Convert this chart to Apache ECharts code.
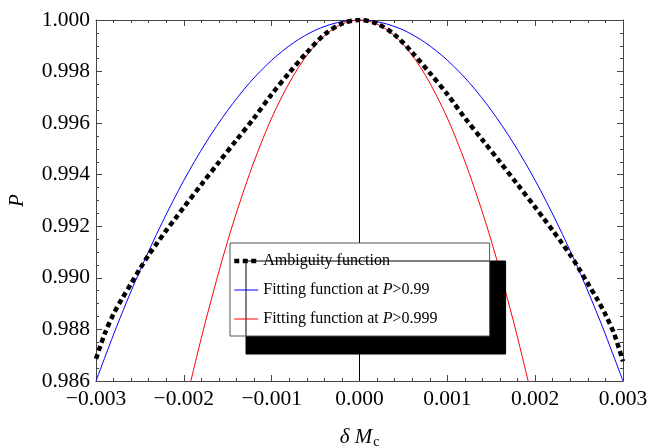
<!DOCTYPE html>
<html>
<head>
<meta charset="utf-8">
<script src="https://cdn.jsdelivr.net/npm/echarts@6/dist/echarts.min.js"></script>
<style>
  html, body { margin: 0; padding: 0; background: #ffffff; }
  #chart { width: 650px; height: 447px; }
</style>
</head>
<body>
<div id="chart"></div>
<script>
// Chirp-mass offset δMc and the match P
const xTicks = [-0.003, -0.002, -0.001, 0, 0.001, 0.002, 0.003];
const xTickLabels = ['\u22120.003', '\u22120.002', '\u22120.001', '0.000', '0.001', '0.002', '0.003'];
const yTicks = [0.986, 0.988, 0.990, 0.992, 0.994, 0.996, 0.998, 1.000];
const yTickLabels = ['0.986', '0.988', '0.990', '0.992', '0.994', '0.996', '0.998', '1.000'];

// Ambiguity function (dashed black)
const ambDelta = [-0.0030, -0.0029, -0.0028, -0.0027, -0.0026, -0.0025, -0.0024, -0.0023, -0.0022, -0.0021,
                  -0.0020, -0.0018, -0.0016, -0.0014, -0.0012, -0.0010, -0.0008, -0.0006, -0.0004, -0.0002,
                   0.0000,
                   0.0002,  0.0004,  0.0006,  0.0008,  0.0010,  0.0012,  0.0014,  0.0016,  0.0018,  0.0020,
                   0.0021,  0.0022,  0.0023,  0.0024,  0.0025,  0.0026,  0.0027,  0.0028,  0.0029,  0.0030];
const ambP = [0.98686, 0.98784, 0.98860, 0.98921, 0.98978, 0.99035, 0.99089, 0.99137, 0.99184, 0.99229,
              0.99274, 0.99362, 0.99449, 0.99535, 0.99620, 0.99712, 0.99795, 0.99874, 0.99943, 0.99986,
              1.00000,
              0.99986, 0.99943, 0.99874, 0.99795, 0.99712, 0.99620, 0.99535, 0.99449, 0.99362, 0.99274,
              0.99229, 0.99184, 0.99137, 0.99089, 0.99035, 0.98978, 0.98921, 0.98858, 0.98782, 0.98676];

// Fitting function at P>0.99 (blue)
const fit99Delta = [-0.0030, -0.00275, -0.0025, -0.00225, -0.0020, -0.00175, -0.0015, -0.00125, -0.0010, -0.00075, -0.0005, -0.00025,
                     0.0000, 0.00025, 0.0005, 0.00075, 0.0010, 0.00125, 0.0015, 0.00175, 0.0020, 0.00225, 0.0025, 0.00275, 0.0030];
const fit99P = [0.98600, 0.98824, 0.99028, 0.99212, 0.99378, 0.99524, 0.99650, 0.99757, 0.99844, 0.99912, 0.99961, 0.99990,
                1.00000, 0.99990, 0.99961, 0.99912, 0.99844, 0.99757, 0.99650, 0.99524, 0.99378, 0.99212, 0.99028, 0.98824, 0.98600];

// Fitting function at P>0.999 (red)
const fit999Delta = [-0.00192, -0.00175, -0.0015, -0.00125, -0.0010, -0.00075, -0.0005, -0.00025,
                      0.0000, 0.00025, 0.0005, 0.00075, 0.0010, 0.00125, 0.0015, 0.00175, 0.00192];
const fit999P = [0.98600, 0.98835, 0.99144, 0.99405, 0.99620, 0.99786, 0.99905, 0.99976,
                 1.00000, 0.99976, 0.99905, 0.99786, 0.99620, 0.99405, 0.99144, 0.98835, 0.98600];

const seriesNames = ['Ambiguity function', 'Fitting function at P>0.99', 'Fitting function at P>0.999'];

const zip = (xs, ys) => xs.map((x, i) => [x, ys[i]]);
const pick = (ticks, labels) => v => {
  const i = ticks.findIndex(t => Math.abs(t - v) < 1e-9);
  return i < 0 ? '' : labels[i];
};

const SERIF = '"Liberation Serif", "DejaVu Serif", serif';
const FRAME = '#444444';

function frameAxis(extra) {
  return Object.assign({
    type: 'value',
    nameMoveOverlap: false,
    axisLine: { show: true, onZero: false, lineStyle: { color: FRAME, width: 1 } },
    axisTick: { show: true, inside: true, length: 6, lineStyle: { color: FRAME, width: 1 } },
    splitLine: { show: false },
    minorSplitLine: { show: false }
  }, extra);
}

const chart = echarts.init(document.getElementById('chart'), null, { renderer: 'canvas' });

chart.setOption({
  animation: false,
  backgroundColor: '#ffffff',
  grid: { left: 96, right: 27, top: 20, bottom: 66, containLabel: false, outerBoundsMode: 'none' },
  xAxis: [
    frameAxis({
      position: 'bottom', min: -0.003, max: 0.003, interval: 0.001,
      minorTick: { show: true, splitNumber: 5, length: 3, lineStyle: { color: FRAME, width: 1 } },
      axisLabel: { show: true, margin: 7, color: '#000', fontFamily: SERIF, fontSize: 21.5,
                   formatter: pick(xTicks, xTickLabels) },
      name: '{i|\u03b4 M}{s|c}',
      nameLocation: 'middle', nameGap: 45,
      nameTextStyle: {
        color: '#000', fontFamily: SERIF, fontSize: 20,
        rich: {
          i: { fontFamily: SERIF, fontSize: 21, fontStyle: 'italic', color: '#000' },
          s: { fontFamily: SERIF, fontSize: 14, color: '#000', padding: [9, 0, 0, 1] }
        }
      }
    }),
    frameAxis({
      position: 'top', min: -0.003, max: 0.003, interval: 0.001,
      minorTick: { show: true, splitNumber: 5, length: 3, lineStyle: { color: FRAME, width: 1 } },
      axisLabel: { show: false }
    })
  ],
  yAxis: [
    frameAxis({
      position: 'left', min: 0.986, max: 1.0, interval: 0.002,
      minorTick: { show: true, splitNumber: 4, length: 3, lineStyle: { color: FRAME, width: 1 } },
      axisLabel: { show: true, margin: 6, color: '#000', fontFamily: SERIF, fontSize: 21.5,
                   formatter: pick(yTicks, yTickLabels) },
      name: 'P', nameLocation: 'middle', nameGap: 68, nameRotate: 90,
      nameTextStyle: { color: '#000', fontFamily: SERIF, fontSize: 21, fontStyle: 'italic' }
    }),
    frameAxis({
      position: 'right', min: 0.986, max: 1.0, interval: 0.002,
      minorTick: { show: true, splitNumber: 4, length: 3, lineStyle: { color: FRAME, width: 1 } },
      axisLabel: { show: false }
    })
  ],
  legend: {
    orient: 'vertical',
    left: 230, top: 243,
    data: seriesNames,
    backgroundColor: '#ffffff',
    borderColor: '#555555', borderWidth: 1, borderRadius: 0,
    shadowColor: '#000000', shadowBlur: 0, shadowOffsetX: 16, shadowOffsetY: 18,
    padding: [9, 52, 8, 2],
    itemGap: 11, itemWidth: 24, itemHeight: 12,
    selectedMode: false,
    itemStyle: { color: 'rgba(0,0,0,0)', borderColor: 'rgba(0,0,0,0)', borderWidth: 0, opacity: 0 },
    lineStyle: { width: 'inherit', type: 'inherit' },
    textStyle: {
      color: '#000', fontFamily: SERIF, fontSize: 16, lineHeight: 18,
      rich: {
        t: { color: '#000', fontFamily: SERIF, fontSize: 16, lineHeight: 18 },
        i: { color: '#000', fontFamily: SERIF, fontSize: 16, lineHeight: 18, fontStyle: 'italic' }
      }
    },
    formatter: name => {
      const m = name.match(/^(.*at )P(>.*)$/);
      return m ? '{t|' + m[1] + '}{i|P}{t|' + m[2] + '}' : '{t|' + name + '}';
    }
  },
  series: [
    {
      name: 'axis0', type: 'line', xAxisIndex: 0, yAxisIndex: 0,
      data: [[0, 0.986], [0, 1.0]],
      symbol: 'none', silent: true, z: 1,
      lineStyle: { color: '#000', width: 1 }
    },
    {
      name: seriesNames[1], type: 'line', data: zip(fit99Delta, fit99P),
      symbol: 'none', smooth: 0.3, z: 2,
      itemStyle: { color: '#0000ff' },
      lineStyle: { color: '#0000ff', width: 1 }
    },
    {
      name: seriesNames[2], type: 'line', data: zip(fit999Delta, fit999P),
      symbol: 'none', smooth: 0.3, z: 2,
      itemStyle: { color: '#ff0000' },
      lineStyle: { color: '#ff0000', width: 1 }
    },
    {
      name: seriesNames[0], type: 'line', data: zip(ambDelta, ambP),
      symbol: 'none', smooth: 0.3, z: 3,
      itemStyle: { color: '#000' },
      lineStyle: { color: '#000', width: 4.5, type: [5, 3.5] }
    }
  ]
});
</script>
</body>
</html>
